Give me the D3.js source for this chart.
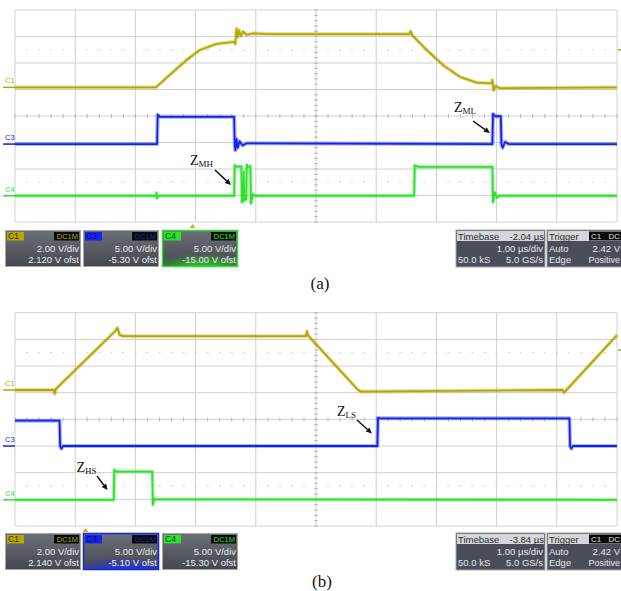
<!DOCTYPE html>
<html><head><meta charset="utf-8">
<script src="https://cdn.jsdelivr.net/npm/d3@7"></script>
<style>body{margin:0;background:#fff}svg{display:block}</style>
</head><body>
<svg id="c" width="621" height="591"></svg>
<script>
// ---------- data (time in divisions 0..10, amplitude in divisions 0..8 from bottom) ----------
const timeDivs = d3.range(0, 11);
const ampDivs = d3.range(0, 9);
const channels = ["C1", "C3", "C4"];

const panelA_C1 = [[0,5.08],[2.34,5.08],[2.57,5.55],[2.85,6.11],[3.07,6.49],[3.35,6.72],[3.64,6.80],[3.66,6.72],[3.68,7.30],[3.70,6.98],[3.72,7.24],[3.75,7.02],[3.79,7.18],[3.85,7.06],[3.95,7.12],[4.2,7.09],[6.55,7.09],[6.57,7.20],[6.60,7.04],[6.84,6.49],[7.11,5.92],[7.39,5.48],[7.67,5.26],[7.92,5.23],[7.93,5.36],[7.95,4.97],[7.98,5.13],[8.05,5.05],[10,5.08]];
const panelA_C3 = [[0,2.94],[2.36,2.94],[2.37,4.05],[2.40,3.97],[3.64,3.97],[3.65,2.94],[3.66,2.70],[3.68,3.14],[3.70,2.80],[3.73,3.05],[3.78,2.89],[3.85,2.97],[7.93,2.94],[7.94,4.08],[7.98,3.99],[8.07,3.99],[8.08,2.94],[8.10,2.80],[8.14,3.02],[8.2,2.94],[10,2.94]];
const panelA_C4 = [[0,0.99],[2.34,0.99],[2.35,1.10],[2.36,0.90],[2.38,0.99],[3.64,0.99],[3.65,2.14],[3.68,2.08],[3.76,2.10],[3.77,0.75],[3.79,0.80],[3.80,1.90],[3.81,0.82],[3.84,0.85],[3.85,2.16],[3.87,2.08],[3.91,2.10],[3.92,0.70],[3.95,1.05],[3.98,0.99],[6.63,0.99],[6.64,2.14],[6.70,2.08],[7.93,2.08],[7.94,0.75],[7.97,1.12],[8.0,0.92],[8.05,0.99],[10,0.99]];

const panelB_C1 = [[0,5.10],[0.64,5.10],[0.66,4.96],[0.68,5.14],[1.66,7.30],[1.70,7.43],[1.72,7.30],[1.74,7.16],[1.8,7.12],[4.83,7.12],[4.85,7.30],[4.87,7.14],[5.70,5.10],[5.74,5.04],[9.10,5.10],[9.12,5.00],[10,7.16]];
const panelB_C3 = [[0,3.95],[0.74,3.95],[0.75,3.00],[0.77,2.90],[0.80,3.00],[6.02,3.00],[6.03,4.06],[6.06,4.04],[9.21,4.04],[9.22,3.00],[9.24,2.90],[9.27,3.00],[10,3.00]];
const panelB_C4 = [[0,0.98],[1.64,0.98],[1.65,2.10],[1.68,2.04],[2.28,2.04],[2.29,0.80],[2.31,1.00],[10,0.98]];

const groundA = [5.08, 2.94, 0.99];
const groundB = [5.10, 3.00, 0.98];
const trigLevel = [6.5, 6.6];

const voltsDivA = ["2.00 V/div", "5.00 V/div", "5.00 V/div"];
const offsetsA = ["2.120 V ofst", "-5.30 V ofst", "-15.00 V ofst"];
const voltsDivB = ["2.00 V/div", "5.00 V/div", "5.00 V/div"];
const offsetsB = ["2.140 V ofst", "-5.10 V ofst", "-15.30 V ofst"];
const timebaseA = "-2.04 µs", timebaseB = "-3.84 µs";
const trigPosA = 2.95, trigPosB = 1.17;

// ---------- styling ----------
const colors = {C1:"#b5a600", C3:"#1424e8", C4:"#2fe02f"};
const badgeText = {C1:"#3a3400", C3:"#0a0a80", C4:"#0b4a0b"};
const svg = d3.select("#c");
const defs = svg.append("defs");

function glow(id, col){
  const g = defs.append("radialGradient").attr("id", id).attr("cx","55%").attr("cy","110%").attr("r","75%");
  g.append("stop").attr("offset","0%").attr("stop-color",col).attr("stop-opacity",1);
  g.append("stop").attr("offset","100%").attr("stop-color",col).attr("stop-opacity",0);
}
glow("glowC4", "#1fe01f");
glow("glowC3", "#1a2cff");
const bg = defs.append("linearGradient").attr("id","boxbg").attr("x1",0).attr("y1",0).attr("x2",0).attr("y2",1);
bg.append("stop").attr("offset","0%").attr("stop-color","#6d7078");
bg.append("stop").attr("offset","100%").attr("stop-color","#44474e");

function drawPanel(cfg){
  const g = svg.append("g");
  const x = d3.scaleLinear().domain([0,10]).range([15,617]);
  const y = d3.scaleLinear().domain([0,8]).range([cfg.bottom, cfg.top]);
  // grid
  g.selectAll(".v").data(timeDivs).join("line")
    .attr("x1", d=>x(d)).attr("x2", d=>x(d)).attr("y1", y(0)).attr("y2", y(8))
    .attr("stroke", "#d0d0d0").attr("stroke-width", 1);
  g.selectAll(".h").data(ampDivs).join("line")
    .attr("y1", d=>y(d)).attr("y2", d=>y(d)).attr("x1", x(0)).attr("x2", x(10))
    .attr("stroke", "#d0d0d0").attr("stroke-width", 1);
  // minor ticks on centre axes
  const minorT = d3.range(0, 10.01, 0.2);
  g.selectAll(".mt").data(minorT).join("line")
    .attr("x1", d=>x(d)).attr("x2", d=>x(d)).attr("y1", y(4)-2).attr("y2", y(4)+2)
    .attr("stroke", "#b8b8b8");
  const minorA = d3.range(0, 8.01, 0.2);
  g.selectAll(".ma").data(minorA).join("line")
    .attr("y1", d=>y(d)).attr("y2", d=>y(d)).attr("x1", x(5)-2).attr("x2", x(5)+2)
    .attr("stroke", "#b8b8b8");
  // dotted rows
  [1.5, 6.5].forEach(r => {
    g.selectAll(null).data(minorT.filter(d=>d>0&&d<10)).join("line")
      .attr("x1", d=>x(d)-1).attr("x2", d=>x(d)+1).attr("y1", y(r)).attr("y2", y(r))
      .attr("stroke", "#d6d6d6").attr("stroke-width", 1.2);
  });
  // traces
  const line = d3.line().x(d=>x(d[0])).y(d=>y(d[1]));
  cfg.traces.forEach((tr, i) => {
    const col = colors[channels[i]];
    g.append("path").attr("d", line(tr)).attr("fill","none").attr("stroke", col)
      .attr("stroke-width", 4).attr("stroke-opacity", 0.35).attr("stroke-linejoin","round");
    g.append("path").attr("d", line(tr)).attr("fill","none").attr("stroke", col)
      .attr("stroke-width", 1.8).attr("stroke-linejoin","round");
  });
  // channel labels + ground markers
  cfg.ground.forEach((lv, i) => {
    const col = colors[channels[i]];
    g.append("line").attr("x1", 3).attr("x2", x(0)).attr("y1", y(lv)).attr("y2", y(lv))
      .attr("stroke", col).attr("stroke-width", 1.5);
    g.append("text").attr("x", 5).attr("y", y(lv)-4).text(channels[i])
      .attr("font-family","Liberation Sans, Arial, sans-serif").attr("font-size", 7.5).attr("fill", col);
  });
  // trigger level marker (right)
  g.append("line").attr("x1", 618).attr("x2", 621).attr("y1", y(cfg.trig)).attr("y2", y(cfg.trig))
    .attr("stroke", colors.C1).attr("stroke-width", 1.5);
  // trigger position marker
  const tx = x(cfg.trigPos), ty = y(0);
  g.append("path").attr("d", `M${tx},${ty+2} L${tx-3},${ty+6} L${tx+3},${ty+6} Z`).attr("fill", "#d9a81e");
  // annotations
  cfg.notes.forEach(n => {
    const t = g.append("text").attr("x", n.tx).attr("y", n.ty)
      .attr("font-family","Liberation Serif, Times New Roman, serif").attr("fill","#111");
    t.append("tspan").attr("font-size", 14).text("Z");
    t.append("tspan").attr("font-size", 9).attr("dy", 2).text(n.sub);
    const [x1,y1,x2,y2] = n.arrow;
    const ang = Math.atan2(y2-y1, x2-x1);
    const hl = 6, hw = 2.8;
    const bx = x2 - hl*Math.cos(ang), by = y2 - hl*Math.sin(ang);
    g.append("line").attr("x1", x1).attr("y1", y1).attr("x2", bx).attr("y2", by)
      .attr("stroke","#111").attr("stroke-width", 1.5);
    g.append("path").attr("d", `M${x2},${y2} L${bx - hw*Math.sin(ang)},${by + hw*Math.cos(ang)} L${bx + hw*Math.sin(ang)},${by - hw*Math.cos(ang)} Z`).attr("fill","#111");
  });
  // channel boxes
  const font = "Liberation Sans, Arial, sans-serif";
  const bx0 = [5, 83, 162], bw = 76, by0 = cfg.boxY, bh = 37;
  channels.forEach((ch, i) => {
    const bgX = bx0[i];
    const sel = cfg.selected === ch;
    g.append("rect").attr("x", bgX).attr("y", by0).attr("width", bw).attr("height", bh)
      .attr("fill", "url(#boxbg)");
    if (sel) g.append("rect").attr("x", bgX).attr("y", by0+bh*0.45).attr("width", bw).attr("height", bh*0.55)
      .attr("fill", `url(#glow${ch})`);
    g.append("rect").attr("x", bgX+0.5).attr("y", by0+0.5).attr("width", bw-1).attr("height", bh-1)
      .attr("fill","none").attr("stroke", sel ? colors[ch] : "#a4a6aa").attr("stroke-width", sel?1.5:1);
    g.append("rect").attr("x", bgX+2).attr("y", by0+2).attr("width", 17).attr("height", 8.5).attr("fill", colors[ch]);
    g.append("text").attr("x", bgX+3).attr("y", by0+9.3).text(ch).attr("font-size", 8.5)
      .attr("font-family", font).attr("fill", badgeText[ch]);
    g.append("rect").attr("x", bgX+bw-27).attr("y", by0+2).attr("width", 25).attr("height", 8.5).attr("fill", "#0c0c0c");
    g.append("text").attr("x", bgX+bw-3).attr("y", by0+9.2).text("DC1M").attr("font-size", 7.5).attr("text-anchor","end")
      .attr("font-family", font).attr("fill", ch==="C3" ? "#1a1aa0" : colors[ch]);
    g.append("text").attr("x", bgX+bw-2).attr("y", by0+22).text(cfg.vdiv[i]).attr("font-size", 9.5).attr("text-anchor","end")
      .attr("font-family", font).attr("fill", "#e8e8ea");
    g.append("text").attr("x", bgX+bw-2).attr("y", by0+32.5).text(cfg.ofst[i]).attr("font-size", 9.5).attr("text-anchor","end")
      .attr("font-family", font).attr("fill", "#ececee");
  });
  // timebase box
  const tbx = 456, tbw = 89;
  g.append("rect").attr("x", tbx).attr("y", by0).attr("width", tbw).attr("height", bh).attr("fill", "#4a4e5b").attr("stroke","#a4a6aa");
  g.append("rect").attr("x", tbx+1).attr("y", by0+1).attr("width", tbw-2).attr("height", 10).attr("fill", "#d6d6da");
  g.append("text").attr("x", tbx+2).attr("y", by0+9.5).text("Timebase").attr("font-size", 9.5).attr("font-family", font).attr("fill","#2a2a2e");
  g.append("text").attr("x", tbx+tbw-1).attr("y", by0+9.5).text(cfg.timebase).attr("font-size", 9.5).attr("text-anchor","end").attr("font-family", font).attr("fill","#2a2a2e");
  g.append("text").attr("x", tbx+tbw-2).attr("y", by0+22).text("1.00 µs/div").attr("font-size", 9.5).attr("text-anchor","end").attr("font-family", font).attr("fill","#e8e8ea");
  g.append("text").attr("x", tbx+2).attr("y", by0+32.5).text("50.0 kS").attr("font-size", 9.5).attr("font-family", font).attr("fill","#e8e8ea");
  g.append("text").attr("x", tbx+tbw-2).attr("y", by0+32.5).text("5.0 GS/s").attr("font-size", 9.5).attr("text-anchor","end").attr("font-family", font).attr("fill","#e8e8ea");
  // trigger box
  const trx = 547, trw = 80;
  g.append("rect").attr("x", trx).attr("y", by0).attr("width", trw).attr("height", bh).attr("fill", "#4a4e5b").attr("stroke","#a4a6aa");
  g.append("rect").attr("x", trx+1).attr("y", by0+1).attr("width", trw-2).attr("height", 10).attr("fill", "#d6d6da");
  g.append("text").attr("x", trx+2).attr("y", by0+9.5).text("Trigger").attr("font-size", 9.5).attr("font-family", font).attr("fill","#2a2a2e");
  g.append("rect").attr("x", 589).attr("y", by0+1.5).attr("width", 32).attr("height", 9).attr("fill", "#0c0c0c");
  g.append("text").attr("x", 591).attr("y", by0+9.3).text("C1").attr("font-size", 8).attr("font-family", font).attr("fill","#e0e0e0");
  g.append("text").attr("x", 620).attr("y", by0+9.3).text("DC").attr("font-size", 8).attr("text-anchor","end").attr("font-family", font).attr("fill","#e0e0e0");
  g.append("text").attr("x", trx+2).attr("y", by0+22).text("Auto").attr("font-size", 9.5).attr("font-family", font).attr("fill","#e8e8ea");
  g.append("text").attr("x", 620).attr("y", by0+22).text("2.42 V").attr("font-size", 9.5).attr("text-anchor","end").attr("font-family", font).attr("fill","#e8e8ea");
  g.append("text").attr("x", trx+2).attr("y", by0+32.5).text("Edge").attr("font-size", 9.5).attr("font-family", font).attr("fill","#e8e8ea");
  g.append("text").attr("x", 620).attr("y", by0+32.5).text("Positive").attr("font-size", 9).attr("text-anchor","end").attr("font-family", font).attr("fill","#e8e8ea");
  // caption
  g.append("text").attr("x", cfg.capX).attr("y", cfg.capY).text(cfg.caption).attr("text-anchor","middle")
    .attr("font-family","Liberation Serif, Times New Roman, serif").attr("font-size", 17).attr("fill","#111");
}

drawPanel({top:10, bottom:222, traces:[panelA_C1, panelA_C3, panelA_C4], ground:groundA, trig:trigLevel[0],
  trigPos:trigPosA, boxY:230, vdiv:voltsDivA, ofst:offsetsA, selected:"C4", timebase:timebaseA,
  caption:"(a)", capX:320, capY:289,
  notes:[{sub:"MH", tx:190, ty:165, arrow:[215,170,231,185]}, {sub:"ML", tx:454, ty:112, arrow:[473,121,490,133]}]});
drawPanel({top:312.7, bottom:526, traces:[panelB_C1, panelB_C3, panelB_C4], ground:groundB, trig:trigLevel[1],
  trigPos:trigPosB, boxY:533, vdiv:voltsDivB, ofst:offsetsB, selected:"C3", timebase:timebaseB,
  caption:"(b)", capX:322, capY:587,
  notes:[{sub:"HS", tx:76.5, ty:472, arrow:[97,476,107.5,490]}, {sub:"LS", tx:337, ty:415.5, arrow:[357,420,372,433.5]}]});
</script>
</body></html>
